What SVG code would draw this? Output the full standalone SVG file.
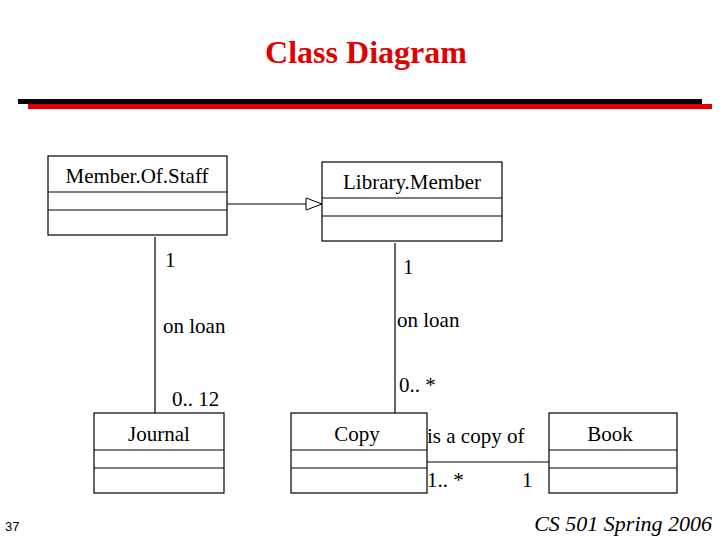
<svg xmlns="http://www.w3.org/2000/svg" width="720" height="540" viewBox="0 0 720 540">
<style>
.b{fill:#fff;stroke:#000;stroke-width:1.2}
.l{stroke:#000;stroke-width:1.2;fill:none}
text{font-family:"Liberation Serif",serif;font-size:21px;fill:#000}
</style>
<defs><marker id="tri" markerWidth="18" markerHeight="14" refX="17" refY="7" orient="auto" markerUnits="userSpaceOnUse"><path d="M1,1 L17,7 L1,13 Z" fill="#fff" stroke="#000"/></marker></defs>
<rect width="720" height="540" fill="#fff"/>
<text x="366" y="63" text-anchor="middle" style="font-size:32px;font-weight:bold;fill:#e00000">Class Diagram</text>
<rect x="18" y="99" width="684" height="5" fill="#000"/>
<rect x="28" y="104" width="684" height="5" fill="#e00000"/>
<g id="connectors">
<line class="l" x1="227" y1="204" x2="322" y2="204" marker-end="url(#tri)"/>
<line class="l" x1="155" y1="237" x2="155" y2="413"/>
<line class="l" x1="395" y1="243" x2="395" y2="413"/>
<line class="l" x1="427" y1="462" x2="549" y2="462"/>
<text x="165" y="267">1</text>
<text x="403" y="274">1</text>
<text x="163" y="333">on loan</text>
<text x="397" y="327">on loan</text>
<text x="172" y="406">0.. 12</text>
<text x="399" y="392">0.. *</text>
<text x="427" y="443">is a copy of</text>
<text x="427" y="487">1.. *</text>
<text x="522" y="487">1</text>
</g>
<g id="MemberOfStaff"><rect class="b" x="48" y="156" width="179" height="79"/><line class="l" x1="48" y1="192" x2="227" y2="192"/><line class="l" x1="48" y1="210" x2="227" y2="210"/><text x="137" y="183" text-anchor="middle">Member.Of.Staff</text></g>
<g id="LibraryMember"><rect class="b" x="322" y="162" width="180" height="79"/><line class="l" x1="322" y1="198" x2="502" y2="198"/><line class="l" x1="322" y1="216" x2="502" y2="216"/><text x="412" y="189" text-anchor="middle">Library.Member</text></g>
<g id="Journal"><rect class="b" x="94" y="413" width="130" height="80"/><line class="l" x1="94" y1="450" x2="224" y2="450"/><line class="l" x1="94" y1="468" x2="224" y2="468"/><text x="159" y="441" text-anchor="middle">Journal</text></g>
<g id="Copy"><rect class="b" x="291" y="413" width="136" height="80"/><line class="l" x1="291" y1="450" x2="427" y2="450"/><line class="l" x1="291" y1="468" x2="427" y2="468"/><text x="357" y="441" text-anchor="middle">Copy</text></g>
<g id="Book"><rect class="b" x="549" y="413" width="128" height="80"/><line class="l" x1="549" y1="450" x2="677" y2="450"/><line class="l" x1="549" y1="468" x2="677" y2="468"/><text x="610" y="441" text-anchor="middle">Book</text></g>
<text x="5" y="531" style="font-family:'Liberation Sans',sans-serif;font-size:13px">37</text>
<text x="712" y="531" text-anchor="end" style="font-style:italic;font-size:22px">CS 501 Spring 2006</text>
</svg>
